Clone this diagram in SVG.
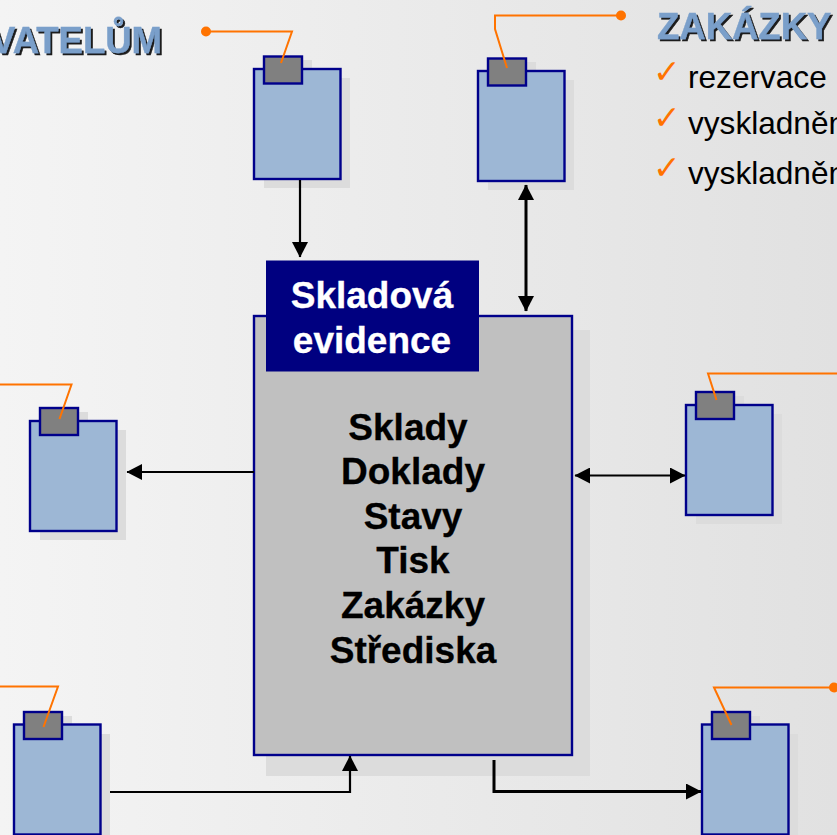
<svg xmlns="http://www.w3.org/2000/svg" width="837" height="835" viewBox="0 0 837 835">
<style>
text{font-family:"Liberation Sans",Arial,sans-serif}
.sh{fill:#dcdcdc}
.body{fill:#9db7d5;stroke:#00008b;stroke-width:2.4}
.tab{fill:#808080;stroke:#00008b;stroke-width:2.4}
.call{fill:none;stroke:#ff7300;stroke-width:2}
.dot{fill:#ff7300}
.c{fill:none;stroke:#000;stroke-width:2.2}
.c3{fill:none;stroke:#000;stroke-width:3}
.t{font-size:37px;font-weight:bold;text-anchor:middle;fill:#000;stroke:#000;stroke-width:.3}
.w{font-size:37px;font-weight:bold;text-anchor:middle;fill:#fff;stroke:#fff;stroke-width:.3}
.h{font-size:36.500px;font-weight:bold;fill:#7a9fca;stroke:#7a9fca;stroke-width:.4;filter:url(#ds)}
.li{font-size:31.6px;fill:#000}
.ck{font-size:33px;fill:#ff7300;font-family:"DejaVu Sans",sans-serif}
</style>
<defs>
<linearGradient id="bg" x1="0" y1="0" x2="1" y2="0"><stop offset="0" stop-color="#f4f4f4"/><stop offset="1" stop-color="#e1e1e1"/></linearGradient>
<filter id="ds" x="-5%" y="-10%" width="110%" height="125%"><feDropShadow dx="2" dy="2" stdDeviation="0" flood-color="#1a1a1a"/></filter>
<marker id="a" markerUnits="userSpaceOnUse" markerWidth="16" markerHeight="16" refX="15" refY="8" orient="auto-start-reverse"><path d="M0 0L15.500 8L0 16Z" fill="#000"/></marker>
</defs>
<rect width="837" height="835" fill="url(#bg)"/>
<g id="heading-left"><text class="h" x="162" y="53" text-anchor="end">VATELŮM</text></g>
<g id="heading-right"><text class="h" x="657" y="39">ZAKÁZKY</text></g>
<g id="list">
<text class="ck" x="653" y="83">✓</text><text class="li" x="688" y="88">rezervace</text>
<text class="ck" x="653" y="129">✓</text><text class="li" x="688" y="134">vyskladněn</text>
<text class="ck" x="653" y="179">✓</text><text class="li" x="688" y="184">vyskladněn</text>
</g>
<g id="center">
<rect class="sh" x="266" y="330" width="324" height="446"/>
<rect x="254" y="316" width="318" height="439" fill="#c0c0c0" stroke="#00008b" stroke-width="2.400"/>
<rect x="266" y="260.500" width="213" height="111" fill="#000080"/>
<text class="w" x="372" y="308">Skladová</text>
<text class="w" x="372" y="353">evidence</text>
<text class="t" x="408" y="440">Sklady</text>
<text class="t" x="413" y="484">Doklady</text>
<text class="t" x="413" y="529">Stavy</text>
<text class="t" x="413" y="573">Tisk</text>
<text class="t" x="413" y="618">Zakázky</text>
<text class="t" x="413" y="663">Střediska</text>
</g>
<g id="node1">
<rect class="sh" x="264" y="78" width="86" height="110"/><rect class="sh" x="274" y="60" width="38" height="20"/>
<rect class="body" x="254" y="69" width="86.500" height="110"/><rect class="tab" x="264" y="56.500" width="38" height="27"/>
<path class="call" d="M206 31.500H292L281 63"/><circle class="dot" cx="206" cy="31.500" r="5"/>
</g>
<g id="node2">
<rect class="sh" x="488" y="80" width="86" height="110"/><rect class="sh" x="498" y="62" width="38" height="20"/>
<rect class="body" x="478" y="71" width="86.500" height="110"/><rect class="tab" x="488" y="58.500" width="38" height="27"/>
<path class="call" d="M621 15.500H495V29L507 68"/><circle class="dot" cx="621" cy="15.500" r="5"/>
</g>
<g id="node3">
<rect class="sh" x="40" y="430" width="86" height="110"/><rect class="sh" x="50" y="412" width="38" height="20"/>
<rect class="body" x="30" y="421" width="86.500" height="110"/><rect class="tab" x="40" y="408" width="38" height="27"/>
<path class="call" d="M0 384.500H71.500L59.500 419"/>
</g>
<g id="node4">
<rect class="sh" x="696" y="414" width="86" height="110"/><rect class="sh" x="706" y="396" width="38" height="20"/>
<rect class="body" x="686" y="405" width="86.500" height="110"/><rect class="tab" x="696" y="392" width="38" height="27"/>
<path class="call" d="M837 373.500H708L716.500 400"/>
</g>
<g id="node5">
<rect class="sh" x="24" y="734" width="86" height="110"/><rect class="sh" x="34" y="716" width="38" height="20"/>
<rect class="body" x="14" y="724.500" width="86.500" height="110"/><rect class="tab" x="24" y="712" width="38" height="27"/>
<path class="call" d="M0 686.500H58L43.500 727"/>
</g>
<g id="node6">
<rect class="sh" x="712" y="734" width="86" height="110"/><rect class="sh" x="722" y="716" width="38" height="20"/>
<rect class="body" x="702" y="724.500" width="86.500" height="110"/><rect class="tab" x="712" y="712" width="38" height="27"/>
<path class="call" d="M834 687.500H714L731.500 725"/><circle class="dot" cx="834" cy="687.500" r="5"/>
</g>
<g id="connectors">
<path class="c" d="M300 180V257" marker-end="url(#a)"/>
<path class="c3" d="M526 185V311" marker-start="url(#a)" marker-end="url(#a)"/>
<path class="c" d="M254 472H127" marker-end="url(#a)"/>
<path class="c" d="M575 475.500H685" marker-start="url(#a)" marker-end="url(#a)"/>
<path class="c" d="M110 792H350V756" marker-end="url(#a)"/>
<path class="c3" d="M494 760V791.500H701" marker-end="url(#a)"/>
</g>
</svg>
